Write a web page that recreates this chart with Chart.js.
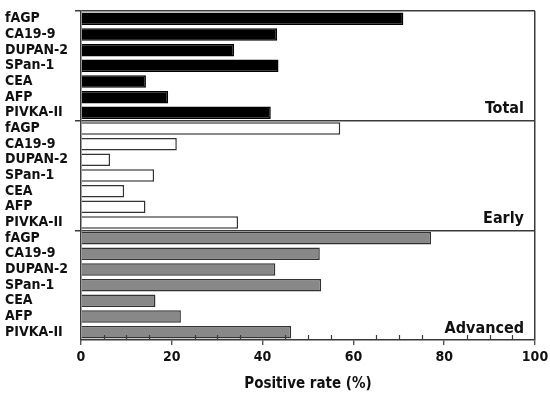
<!DOCTYPE html>
<html>
<head>
<meta charset="utf-8">
<script src="https://cdn.jsdelivr.net/npm/chart.js@4/dist/chart.umd.min.js"></script>
<style>
  html, body { margin: 0; padding: 0; background: #fff; }
  #wrap { width: 550px; height: 399px; }
</style>
</head>
<body>
<div id="wrap"><canvas id="chart"></canvas></div>
<script>
const markers = ["fAGP", "CA19-9", "DUPAN-2", "SPan-1", "CEA", "AFP", "PIVKA-II"];
const panels = ["Total", "Early", "Advanced"];
const totalValues = [71, 43.2, 33.7, 43.5, 14.3, 19.2, 41.8];
const earlyValues = [57.1, 21.1, 6.4, 16.1, 9.5, 14.2, 34.6];
const advancedValues = [77.1, 52.6, 42.8, 52.9, 16.4, 22.0, 46.3];
const xTicks = [0, 20, 40, 60, 80, 100];

const lineColor = "#3a3a3a";
const fontFamily = "'DejaVu Sans Condensed', 'Liberation Sans Narrow', Arial, sans-serif";

const labels = [].concat(markers, markers, markers);
const blank = markers.map(() => null);

// minor ticks pointing into the plot, panel names in the lower right corner
const extras = {
    id: "extras",
    afterDraw(chart) {
        const { ctx, chartArea, scales } = chart;
        const x = scales.x, y = scales.y;
        ctx.save();
        ctx.strokeStyle = lineColor;
        ctx.lineWidth = 1.2;
        for (let v = 5; v < 100; v += 5) {
            if (v % 20 === 0) continue;
            const px = Math.round(x.getPixelForValue(v)) + 0.5;
            ctx.beginPath();
            ctx.moveTo(px, chartArea.bottom);
            ctx.lineTo(px, chartArea.bottom - 5);
            ctx.stroke();
        }
        ctx.fillStyle = "#111";
        ctx.font = "bold 16px " + fontFamily;
        ctx.textAlign = "right";
        ctx.textBaseline = "alphabetic";
        panels.forEach((name, i) => {
            const last = (i + 1) * markers.length - 1;
            const half = (y.getPixelForValue(1) - y.getPixelForValue(0)) / 2;
            const bottom = y.getPixelForValue(last) + half;
            ctx.fillText(name, chartArea.right - 11, bottom - 7.5);
        });
        ctx.restore();
    }
};

new Chart(document.getElementById("chart"), {
    type: "bar",
    data: {
        labels: labels,
        datasets: [
            {
                label: panels[0],
                data: totalValues.concat(blank, blank),
                backgroundColor: "#000",
                borderColor: "#000",
                borderWidth: 1.5
            },
            {
                label: panels[1],
                data: blank.concat(earlyValues, blank),
                backgroundColor: "#fff",
                borderColor: "#333",
                borderWidth: 1.5
            },
            {
                label: panels[2],
                data: blank.concat(blank, advancedValues),
                backgroundColor: "#888",
                borderColor: "#333",
                borderWidth: 1.5
            }
        ]
    },
    options: {
        indexAxis: "y",
        responsive: true,
        maintainAspectRatio: false,
        animation: false,
        grouped: false,
        barPercentage: 0.8,
        categoryPercentage: 1,
        layout: { padding: { top: 7, right: 0, left: 5, bottom: 4 } },
        plugins: {
            legend: { display: false },
            tooltip: { enabled: false }
        },
        scales: {
            x: {
                min: 0,
                max: 100,
                afterFit(scale) {
                    scale.height = 55;
                    scale.paddingRight = 15;
                },
                border: { display: true, color: lineColor, width: 1.5 },
                grid: {
                    drawOnChartArea: true,
                    color: ctx => (ctx.tick && ctx.tick.value === 100) ? lineColor : "rgba(0,0,0,0)",
                    lineWidth: 1.5,
                    tickColor: ctx => (ctx.tick && xTicks.includes(ctx.tick.value)) ? lineColor : "rgba(0,0,0,0)",
                    tickLength: 5,
                    tickWidth: 1.2
                },
                ticks: {
                    stepSize: 5,
                    autoSkip: false,
                    maxRotation: 0,
                    padding: 4,
                    color: "#111",
                    font: { family: fontFamily, size: 14, weight: "bold" },
                    callback: v => xTicks.includes(v) ? String(v) : ""
                },
                title: {
                    display: true,
                    text: "Positive rate (%)",
                    color: "#111",
                    font: { family: fontFamily, size: 15, weight: "bold" },
                    padding: { top: 6, bottom: 2 }
                }
            },
            y: {
                type: "category",
                afterFit(scale) { scale.width = 76; },
                border: { display: true, color: lineColor, width: 1.5 },
                grid: {
                    offset: true,
                    color: ctx => (ctx.index !== undefined && ctx.index % markers.length === 0) ? lineColor : "rgba(0,0,0,0)",
                    lineWidth: 1.5,
                    tickLength: 6
                },
                ticks: {
                    autoSkip: false,
                    crossAlign: "far",
                    padding: 4,
                    color: "#111",
                    font: { family: fontFamily, size: 14, weight: "bold", lineHeight: 1 }
                }
            }
        }
    },
    plugins: [extras]
});
</script>
</body>
</html>
